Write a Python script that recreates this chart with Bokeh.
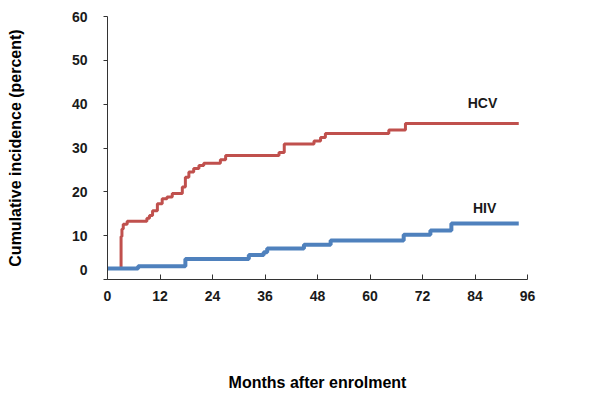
from bokeh.plotting import figure
from bokeh.models import FixedTicker, Label, Range1d
from bokeh.embed import file_html
from bokeh.resources import INLINE

# Cumulative incidence (percent) step curves
hcv_months = [0, 3.1, 3.3, 3.6, 4.5, 9.0, 9.6, 10.3, 11.4, 12.5, 13.6, 14.8, 17.1, 17.8,
              18.6, 19.7, 20.9, 22.0, 25.8, 27.0, 39.2, 40.4, 47.2, 48.7, 49.8, 64.3, 68.1, 94.0]
hcv_values = [2.5, 9.8, 11.5, 12.6, 13.3, 14.0, 14.6, 15.7, 17.3, 18.4, 18.8, 19.6, 21.1, 23.3,
              24.5, 25.3, 26.0, 26.5, 27.3, 28.3, 29.0, 30.9, 31.6, 32.4, 33.3, 34.1, 35.6, 35.6]

hiv_months = [0, 7.0, 17.8, 32.3, 35.7, 36.5, 44.9, 51.0, 67.7, 73.8, 78.6, 94.0]
hiv_values = [2.5, 3.0, 4.7, 5.6, 6.2, 7.1, 7.9, 8.9, 10.2, 11.2, 12.8, 12.8]

x_ticks = [0, 12, 24, 36, 48, 60, 72, 84, 96]
y_ticks = [0, 10, 20, 30, 40, 50, 60]

series_labels = ["HCV", "HIV"]
label_pos = [(85.7, 40.2), (86.2, 16.4)]

FONT = "Liberation Sans"
TXT = "#1a1a1a"

p = figure(width=592, height=398, output_backend="svg", toolbar_location=None,
           x_range=Range1d(0, 96), y_range=Range1d(0, 60),
           min_border_left=107, min_border_right=65, min_border_top=16, min_border_bottom=119)
p.outline_line_color = None
p.xgrid.visible = False
p.ygrid.visible = False
p.background_fill_color = "white"
p.border_fill_color = "white"

p.step(hcv_months, hcv_values, mode="after", line_color="#C0504D", line_width=3)
p.step(hiv_months, hiv_values, mode="after", line_color="#4F81BD", line_width=4)

for name, (lx, ly) in zip(series_labels, label_pos):
    p.add_layout(Label(x=lx, y=ly, text=name, text_font=FONT, text_font_style="bold",
                       text_font_size="14px", text_color=TXT, text_align="center",
                       text_baseline="middle"))

# x axis
xa = p.xaxis[0]
xa.ticker = FixedTicker(ticks=x_ticks)
xa.minor_tick_line_color = None
xa.major_tick_in = 5
xa.major_tick_out = 0
xa.axis_line_color = "#333333"
xa.major_tick_line_color = "#333333"
xa.major_label_text_font = FONT
xa.major_label_text_font_style = "bold"
xa.major_label_text_font_size = "14px"
xa.major_label_text_color = TXT
xa.major_label_standoff = 11
xa.axis_label = "Months after enrolment"
xa.axis_label_text_font = FONT
xa.axis_label_text_font_style = "bold"
xa.axis_label_text_font_size = "16px"
xa.axis_label_text_color = "#000000"
xa.axis_label_standoff = 70

# y axis ("0" is drawn a little above its tick, as in the original)
ya = p.yaxis[0]
ya.ticker = FixedTicker(ticks=y_ticks)
ya.major_label_overrides = {0: "0\n "}
ya.minor_tick_line_color = None
ya.major_tick_in = 0
ya.major_tick_out = 4
ya.axis_line_color = "#333333"
ya.major_tick_line_color = "#333333"
ya.major_label_text_font = FONT
ya.major_label_text_font_style = "bold"
ya.major_label_text_font_size = "14px"
ya.major_label_text_color = TXT
ya.major_label_standoff = 16
ya.axis_label = "Cumulative incidence (percent)"
ya.axis_label_text_font = FONT
ya.axis_label_text_font_style = "bold"
ya.axis_label_text_font_size = "16px"
ya.axis_label_text_color = "#000000"
ya.axis_label_standoff = 45

open("out.html", "w").write(file_html(p, INLINE))
